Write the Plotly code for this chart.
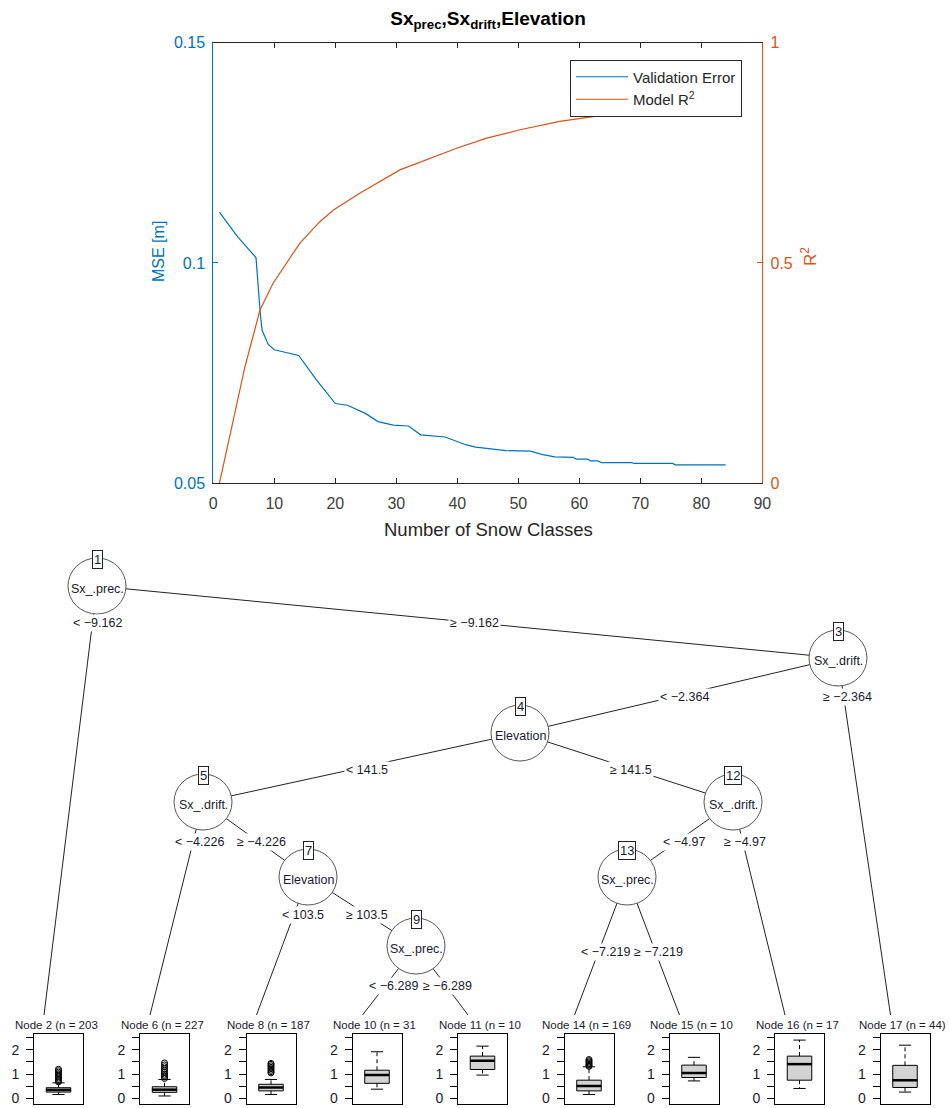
import plotly.graph_objects as go

# ---------------- top chart data ----------------
mse_x = [1, 4, 7, 7.3, 7.7, 8, 9, 10, 12, 14, 17, 20, 22, 25, 27, 29.5, 32, 34, 38, 41.5,
         43, 48, 52, 54, 56, 59, 59.5, 61.4, 61.8, 63, 63.6, 68.6, 69, 75.3, 75.7, 84]
mse_y = [0.1115, 0.1059, 0.1012, 0.0950, 0.0885, 0.0847, 0.0815, 0.0803, 0.0797, 0.0790,
         0.0733, 0.0681, 0.0677, 0.0658, 0.0640, 0.0632, 0.0630, 0.0610, 0.0605, 0.0587,
         0.0582, 0.0574, 0.0573, 0.0565, 0.0560, 0.0559, 0.0555, 0.0555, 0.0551, 0.0551,
         0.0547, 0.0547, 0.0545, 0.0545, 0.0542, 0.0542]
r2_x = [1, 4.1, 5.2, 7.65, 9.8, 14.2, 17.5, 19.7, 24, 30.6, 39.9, 44.8, 50.3, 56.8, 63.4,
        67.5, 75, 84]
r2_y = [0.0, 0.193, 0.265, 0.393, 0.454, 0.545, 0.594, 0.620, 0.658, 0.711, 0.760, 0.783,
        0.802, 0.821, 0.834, 0.844, 0.853, 0.862]
x_ticks = [0, 10, 20, 30, 40, 50, 60, 70, 80, 90]
mse_ticks = [0.05, 0.1, 0.15]
mse_ticktext = ["0.05", "0.1", "0.15"]
r2_ticks = [0, 0.5, 1]
r2_ticktext = ["0", "0.5", "1"]

# ---------------- tree data ----------------
inner_ids = [1, 3, 4, 5, 7, 9, 12, 13]
inner_vars = ["Sx_.prec.", "Sx_.drift.", "Elevation", "Sx_.drift.", "Elevation",
              "Sx_.prec.", "Sx_.drift.", "Sx_.prec."]
# layout positions of inner nodes (canvas pixels)
inner_x = [97, 838, 520, 203, 308, 416, 733, 627]
inner_y = [586, 658, 733, 802, 877, 946, 802, 877]

term_ids = [2, 6, 8, 10, 11, 14, 15, 16, 17]
term_n = ["203", "227", "187", "31", "10", "169", "10", "17", "44)"]
# layout: left edge of each terminal panel (canvas pixels)
term_left = [34, 140, 246.5, 352.5, 458, 564.5, 669.5, 775, 880.5]

edge_parent = [1, 1, 3, 3, 4, 4, 5, 5, 7, 7, 9, 9, 12, 12, 13, 13]
edge_child = [2, 3, 4, 17, 5, 12, 6, 7, 8, 9, 10, 11, 13, 16, 14, 15]
edge_text = ["< \u22129.162", "\u2265 \u22129.162", "< \u22122.364", "\u2265 \u22122.364",
             "< 141.5", "\u2265 141.5", "< \u22124.226", "\u2265 \u22124.226",
             "< 103.5", "\u2265 103.5", "< \u22126.289", "\u2265 \u22126.289",
             "< \u22124.97", "\u2265 \u22124.97", "< \u22127.219", "\u2265 \u22127.219"]
# layout: edge label positions
edge_lx = [97.5, 474, 684, 847.5, 367, 631, 199, 261, 302.5, 366.7, 393, 447, 684, 745, 605, 658]
edge_ly = [623, 623, 697, 697, 770, 770, 842, 842, 915, 915, 986, 986, 842, 842, 952, 952]

# terminal node box-plot statistics
box_q1 = [0.26, 0.25, 0.31, 0.62, 1.19, 0.31, 0.86, 0.75, 0.45]
box_med = [0.35, 0.36, 0.45, 0.96, 1.55, 0.51, 1.05, 1.41, 0.75]
box_q3 = [0.44, 0.48, 0.58, 1.16, 1.74, 0.75, 1.37, 1.74, 1.36]
box_lo = [0.16, 0.10, 0.16, 0.38, 0.96, 0.16, 0.72, 0.41, 0.26]
box_hi = [0.64, 0.78, 0.78, 1.92, 2.15, 1.30, 1.69, 2.40, 2.19]
box_out = [
    [0.68, 0.73, 0.78, 0.84, 0.90, 0.96, 1.02, 1.08, 1.14, 1.20],
    [0.82, 0.88, 0.94, 1.00, 1.07, 1.14, 1.22, 1.30, 1.38, 1.46],
    [1.05, 1.10, 1.16, 1.22, 1.28, 1.34, 1.40, 1.44],
    [], [],
    [1.32, 1.36, 1.40, 1.45, 1.50, 1.55, 1.60],
    [], [], [],
]
box_ticks = [0, 1, 2]
box_ticktext = ["0", "1", "2"]

# ---------------- styling ----------------
W, H = 950, 1108
BLUE = "#0072BD"
ORANGE = "#D95319"
AX = "#262626"
ARIAL = "Liberation Sans, Arial, Helvetica, sans-serif"
TXT = "#1a1a2e"

fig = go.Figure()

# top chart traces
fig.add_trace(go.Scatter(x=mse_x, y=mse_y, mode="lines", name="Validation Error",
                         line=dict(color=BLUE, width=1.2), xaxis="x", yaxis="y",
                         legendgroup="a", hoverinfo="skip"))
fig.add_trace(go.Scatter(x=r2_x, y=r2_y, mode="lines", name="Model R<sup>2</sup>",
                         line=dict(color=ORANGE, width=1.2), xaxis="x", yaxis="y2",
                         legendgroup="b", hoverinfo="skip"))

plot_l, plot_r, plot_t, plot_b = 213.3, 762.3, 42.5, 483.3

layout = dict(
    width=W, height=H, margin=dict(l=0, r=0, t=0, b=0, autoexpand=False),
    paper_bgcolor="white", plot_bgcolor="rgba(0,0,0,0)",
    showlegend=True,
    legend=dict(x=570 / W, y=1 - 59.5 / H, xanchor="left", yanchor="top",
                bordercolor=AX, borderwidth=1, bgcolor="white",
                font=dict(family=ARIAL, size=15, color=AX), tracegroupgap=0,
                itemwidth=52),
    title=dict(text="<b>Sx<sub>prec</sub>,Sx<sub>drift</sub>,Elevation</b>",
               x=488 / W, y=1 - 18 / H, xanchor="center", yanchor="middle",
               font=dict(family=ARIAL, size=19, color="black")),
    xaxis=dict(domain=[plot_l / W, plot_r / W], range=[0, 90], tickvals=x_ticks,
               ticks="inside", ticklen=5, tickcolor=AX, showline=True, linecolor=AX,
               linewidth=1, mirror="ticks", showgrid=False, zeroline=False,
               tickfont=dict(family=ARIAL, size=16, color="#404040"), anchor="y",
               ticklabelstandoff=5, fixedrange=True),
    yaxis=dict(domain=[1 - plot_b / H, 1 - plot_t / H], range=[0.05, 0.15],
               tickvals=mse_ticks, ticktext=mse_ticktext, ticks="inside",
               ticklen=5, tickcolor=BLUE, showline=True, linecolor=BLUE, linewidth=1,
               showgrid=False, zeroline=False, anchor="x", ticklabelstandoff=4,
               tickfont=dict(family=ARIAL, size=16, color=BLUE), fixedrange=True),
    yaxis2=dict(overlaying="y", side="right", range=[0, 1], tickvals=r2_ticks,
                ticktext=r2_ticktext, ticks="inside", ticklen=5, tickcolor=ORANGE,
                showline=True, linecolor=ORANGE, linewidth=1, showgrid=False,
                zeroline=False, anchor="x", ticklabelstandoff=4,
                tickfont=dict(family=ARIAL, size=16, color=ORANGE), fixedrange=True),
    xaxis3=dict(domain=[0, 1], range=[0, W], visible=False, anchor="y3", fixedrange=True),
    yaxis3=dict(domain=[0, 1], range=[H, 0], visible=False, anchor="x3", fixedrange=True),
)

shapes = []
annotations = []

# axis titles of top chart (placed on canvas)
annotations.append(dict(x=158, y=252, xref="x3", yref="y3", text="MSE [m]", showarrow=False,
                        textangle=-90, font=dict(family=ARIAL, size=16, color=BLUE)))
annotations.append(dict(x=809, y=257, xref="x3", yref="y3", text="R<sup>2</sup>",
                        showarrow=False, textangle=-90,
                        font=dict(family=ARIAL, size=17, color=ORANGE)))
annotations.append(dict(x=488, y=529, xref="x3", yref="y3", text="Number of Snow Classes",
                        showarrow=False, font=dict(family=ARIAL, size=18.5, color=AX)))

# ---------------- tree ----------------
pos = {}
for i, nid in enumerate(inner_ids):
    pos[nid] = (inner_x[i], inner_y[i])
for i, nid in enumerate(term_ids):
    pos[nid] = (term_left[i] + 10, 1015)

# edges as line traces on canvas
for p, c in zip(edge_parent, edge_child):
    (x0, y0), (x1, y1) = pos[p], pos[c]
    fig.add_trace(go.Scatter(x=[x0, x1], y=[y0, y1], mode="lines", xaxis="x3", yaxis="y3",
                             line=dict(color="#222222", width=1), showlegend=False,
                             hoverinfo="skip"))

# inner node circles
for i, nid in enumerate(inner_ids):
    cx, cy = inner_x[i], inner_y[i]
    shapes.append(dict(type="circle", xref="x3", yref="y3", x0=cx - 29, x1=cx + 29,
                       y0=cy - 28, y1=cy + 28, line=dict(color="#555555", width=1),
                       fillcolor="white", layer="above"))
    annotations.append(dict(x=cx, y=cy + 3, xref="x3", yref="y3", text=inner_vars[i],
                            showarrow=False, font=dict(family=ARIAL, size=12.5, color=TXT)))
    annotations.append(dict(x=cx, y=cy - 27, xref="x3", yref="y3", text=str(nid),
                            showarrow=False, bgcolor="white", bordercolor="#222222",
                            borderwidth=1, borderpad=1,
                            font=dict(family=ARIAL, size=13, color=TXT)))

# edge labels
for i, t in enumerate(edge_text):
    annotations.append(dict(x=edge_lx[i], y=edge_ly[i], xref="x3", yref="y3", text=t,
                            showarrow=False, bgcolor="white", borderpad=1,
                            font=dict(family=ARIAL, size=12.5, color=TXT)))

# terminal nodes: titles + boxplots
box_top, box_bot = 1034, 1104
for i, nid in enumerate(term_ids):
    k = i + 4
    left = term_left[i]
    xa, ya = "x%d" % k, "y%d" % k
    annotations.append(dict(x=left + 22, y=1025, xref="x3", yref="y3",
                            text="Node %d (n = %s" % (nid, term_n[i]), showarrow=False,
                            font=dict(family=ARIAL, size=11.5, color=TXT)))
    layout["xaxis%d" % k] = dict(domain=[left / W, (left + 49) / W], range=[-0.5, 0.5],
                                 showline=True, mirror=True, linecolor="black", linewidth=1,
                                 showticklabels=False, ticks="", showgrid=False,
                                 zeroline=False, anchor=ya, fixedrange=True)
    layout["yaxis%d" % k] = dict(domain=[1 - box_bot / H, 1 - box_top / H],
                                 range=[-0.23, 2.65], tickvals=box_ticks,
                                 ticktext=box_ticktext, ticks="outside", ticklen=7,
                                 tickcolor="black", showline=True, mirror=True,
                                 linecolor="black", linewidth=1, showgrid=False,
                                 minor=dict(dtick=0.5, tick0=0, ticks="outside", ticklen=7,
                                            tickcolor="black", showgrid=False),
                                 zeroline=False, anchor=xa, ticklabelstandoff=4,
                                 tickfont=dict(family=ARIAL, size=14, color=TXT),
                                 fixedrange=True)
    # dashed whiskers with solid staples (R boxplot style)
    fig.add_trace(go.Scatter(x=[0, 0, None, 0, 0],
                             y=[box_q3[i], box_hi[i], None, box_q1[i], box_lo[i]],
                             mode="lines", line=dict(color="black", width=1, dash="4px,3px"),
                             xaxis=xa, yaxis=ya, showlegend=False, hoverinfo="skip"))
    fig.add_trace(go.Scatter(x=[-0.125, 0.125, None, -0.125, 0.125],
                             y=[box_hi[i], box_hi[i], None, box_lo[i], box_lo[i]],
                             mode="lines", line=dict(color="black", width=1),
                             xaxis=xa, yaxis=ya, showlegend=False, hoverinfo="skip"))
    fig.add_trace(go.Box(x=[0], q1=[box_q1[i]], median=[box_med[i]], q3=[box_q3[i]],
                         lowerfence=[box_q1[i]], upperfence=[box_q3[i]], width=0.5,
                         whiskerwidth=0, fillcolor="#d3d3d3",
                         line=dict(color="black", width=1), boxpoints=False,
                         xaxis=xa, yaxis=ya, showlegend=False, hoverinfo="skip"))
    fig.add_trace(go.Scatter(x=[-0.25, 0.25], y=[box_med[i], box_med[i]], mode="lines",
                             line=dict(color="black", width=2.5), xaxis=xa,
                             yaxis=ya, showlegend=False, hoverinfo="skip"))
    if box_out[i]:
        fig.add_trace(go.Scatter(x=[0] * len(box_out[i]), y=box_out[i], mode="markers",
                                 marker=dict(symbol="circle-open", size=6, color="black",
                                             line=dict(width=1)),
                                 xaxis=xa, yaxis=ya, showlegend=False, hoverinfo="skip"))

layout["shapes"] = shapes
layout["annotations"] = annotations
fig.update_layout(**layout)
fig.write_html("out.html", config={"displayModeBar": False, "staticPlot": True},
               post_script="document.body.style.margin='0';")
